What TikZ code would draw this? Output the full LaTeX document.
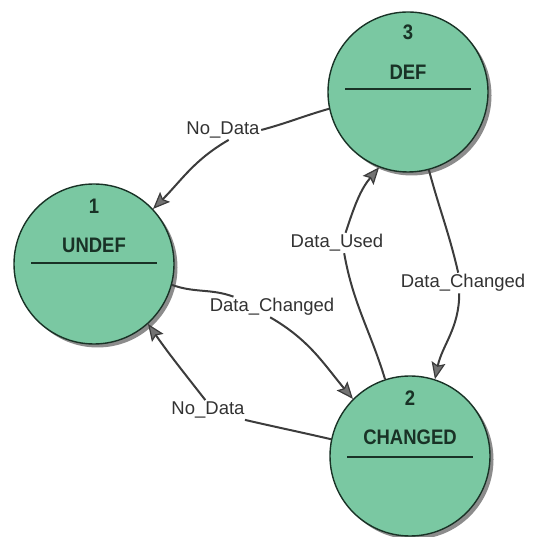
\documentclass[tikz,border=0pt]{standalone}
\usepackage{fontspec}
\setmainfont{Liberation Sans}
\usetikzlibrary{arrows.meta,shadows,calc}
\definecolor{stfill}{RGB}{122,200,162}
\definecolor{stline}{RGB}{25,50,38}
\definecolor{edgec}{RGB}{60,60,60}
\definecolor{tipc}{RGB}{115,115,115}
\definecolor{labc}{RGB}{50,50,50}
\newcommand{\stt}[1]{\scalebox{0.88}[1]{#1}}
\begin{document}
\begin{tikzpicture}[x=1pt,y=1pt,
 state/.style={circle,draw=stline,line width=1.4pt,fill=stfill,minimum size=160pt,inner sep=0pt,
   drop shadow={shadow xshift=3.5pt,shadow yshift=-3.5pt,fill=black!45,opacity=1}},
 sttext/.style={font=\bfseries\fontsize{21}{24}\selectfont,text=stline,inner sep=0pt},
 divider/.style={draw=stline,line width=1.6pt},
 lab/.style={font=\fontsize{18.5}{22}\selectfont,text=labc,inner sep=1.5pt},
 edge/.style={draw=edgec,line width=2pt},
 arr/.style={edge,-{Stealth[length=17pt,width=14pt,inset=3pt,fill=tipc,line width=1.2pt]}}]
\useasboundingbox (0,0) rectangle (533,537);
% states
\node[state] (U) at (94,273) {};
\node[state] (D) at (408,445) {};
\node[state] (C) at (410,81) {};
% state texts
\node[sttext] (u1) at ($(U)+(0,58)$) {\stt{1}};
\node[sttext] (u2) at ($(U)+(0,19)$) {\stt{UNDEF}};
\draw[divider] ($(U)+(-63,1)$) -- ($(U)+(63,1)$);
\node[sttext] (d1) at ($(D)+(0,60)$) {\stt{3}};
\node[sttext] (d2) at ($(D)+(0,20)$) {\stt{DEF}};
\draw[divider] ($(D)+(-63,3)$) -- ($(D)+(63,3)$);
\node[sttext] (c1) at ($(C)+(0,58)$) {\stt{2}};
\node[sttext] (c2) at ($(C)+(0,19)$) {\stt{CHANGED}};
\draw[divider] ($(C)+(-63,-1)$) -- ($(C)+(63,-1)$);
% labels
\node[lab] (ndT) at (223,407) {No\_Data};
\node[lab] (dc1) at (272,230) {Data\_Changed};
\node[lab] (ndB) at (208,127) {No\_Data};
\node[lab] (du)  at (337,294) {Data\_Used};
\node[lab] (dc2) at (463,254) {Data\_Changed};
% edges
\draw[edge] (D.192) to[out=196,in=15] (ndT.east);
\draw[arr] (ndT.-60) to[out=210,in=45] (U.43);
\draw[edge] (U.-15) to[out=-20,in=160] (dc1.165);
\draw[arr] (dc1.-100) to[out=-30,in=130] (C.135);
\draw[edge] (C.168) to[out=167,in=-13] (ndB.-15);
\draw[arr] (ndB.105) to[out=128,in=-55] (U.-48);
\draw[edge] (C.108) to[out=107,in=-80] (du.-55);
\draw[arr] (du.50) to[out=72,in=230] (D.249);
\draw[edge] (D.-75) to[out=-75,in=103] (dc2.115);
\draw[arr] (dc2.-110) to[out=-90,in=78] (C.72);
\end{tikzpicture}
\end{document}
